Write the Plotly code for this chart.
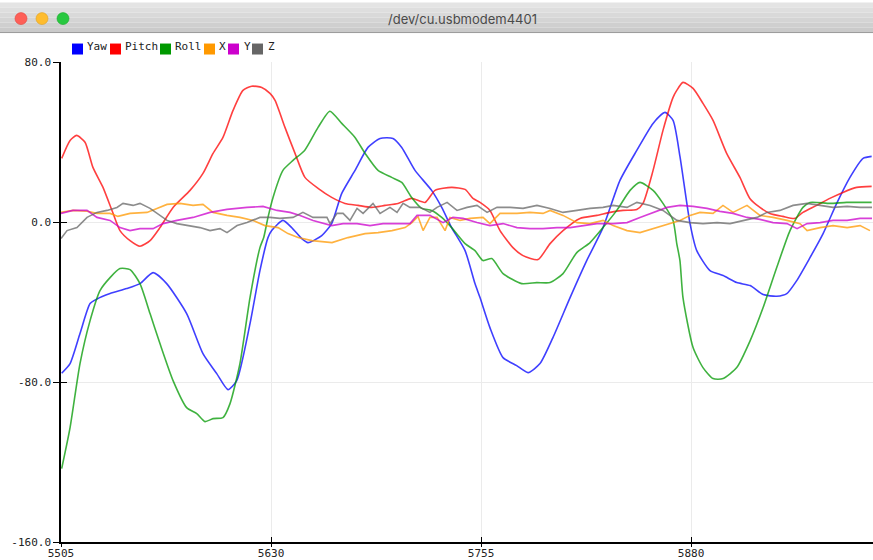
import plotly.graph_objects as go

# ---------------- data ----------------
yaw_x = [5505.4, 5510.4, 5516.3, 5522.3, 5526.2, 5534.2, 5544.1, 5552.0, 5559.8, 5567.9,
         5579.8, 5589.5, 5597.7, 5604.4, 5609.6, 5617.5, 5623.4, 5628.2, 5630.4, 5637.1,
         5642.3, 5648.3, 5652.0, 5660.2, 5666.1, 5672.1, 5680.0, 5687.7, 5694.9, 5702.6,
         5707.8, 5715.7, 5725.6, 5731.6, 5737.5, 5745.5, 5751.4, 5754.4, 5760.3, 5768.1,
         5776.2, 5783.0, 5790.1, 5797.8, 5808.0, 5817.9, 5827.6, 5837.7, 5847.7, 5857.4,
         5864.5, 5869.3, 5873.4, 5879.4, 5883.4, 5891.3, 5899.1, 5907.2, 5915.2, 5922.9,
         5931.0, 5937.0, 5942.9, 5950.8, 5958.6, 5966.7, 5974.6, 5982.4, 5987.5]
yaw_y = [-75.6, -70.8, -55.8, -40.8, -38.6, -35.8, -33.3, -30.8, -25.3, -30.8,
         -45.8, -65.8, -75.8, -83.8, -79.3, -50.8, -24.3, -7.8, -4.3, 0.8,
         -2.8, -8.3, -10.3, -6.8, -0.8, 14.3, 25.8, 37.3, 41.8, 41.8,
         37.3, 25.8, 15.8, 7.3, -2.8, -14.3, -30.8, -37.8, -52.8, -67.8,
         -71.8, -75.3, -70.8, -57.8, -37.8, -19.3, -2.8, 20.8, 35.8, 49.3,
         54.8, 50.8, 32.8, -0.8, -14.3, -24.3, -26.8, -30.3, -31.8, -36.3,
         -37.1, -35.8, -29.3, -17.8, -5.8, 9.3, 22.3, 31.8, 32.8]

pitch_x = [5505.4, 5510.4, 5514.3, 5519.3, 5524.0, 5530.0, 5536.0, 5540.1, 5546.1, 5552.0,
           5558.0, 5563.9, 5571.7, 5581.8, 5589.5, 5595.5, 5601.4, 5607.4, 5613.3, 5618.5,
           5624.5, 5629.4, 5632.4, 5638.3, 5644.3, 5650.2, 5658.0, 5666.1, 5674.0, 5681.8,
           5690.0, 5697.8, 5705.6, 5713.7, 5721.7, 5727.6, 5737.5, 5745.5, 5750.2, 5754.4,
           5760.3, 5766.3, 5774.0, 5780.0, 5788.9, 5796.1, 5803.8, 5813.9, 5824.0, 5831.8,
           5839.5, 5847.7, 5851.4, 5857.4, 5863.3, 5869.3, 5871.5, 5875.2, 5881.2, 5887.1,
           5893.1, 5901.2, 5909.1, 5915.0, 5921.0, 5926.9, 5934.7, 5941.8, 5946.6, 5954.8,
           5962.6, 5970.4, 5978.6, 5987.5]
pitch_y = [31.8, 40.8, 43.3, 39.9, 27.3, 17.3, 4.3, -4.3, -9.3, -12.1,
           -9.3, -2.8, 7.3, 15.8, 24.3, 34.3, 42.3, 55.8, 65.8, 67.9,
           67.3, 64.3, 60.8, 47.3, 34.3, 22.3, 16.8, 12.3, 9.3, 8.3,
           7.3, 8.3, 9.3, 11.8, 9.8, 15.8, 17.3, 16.3, 11.8, 9.8,
           5.8, -4.3, -12.8, -16.8, -18.8, -10.8, -4.3, 1.8, 3.3, 4.8,
           5.8, 6.3, 9.3, 25.8, 45.8, 62.3, 65.8, 69.8, 66.8, 59.3,
           50.8, 34.3, 22.3, 11.8, 7.3, 4.3, 2.8, 1.8, 4.8, 8.3,
           11.8, 14.8, 17.3, 17.8]

roll_x = [5505.4, 5510.4, 5516.3, 5522.3, 5528.2, 5534.2, 5540.1, 5546.1, 5552.0, 5558.0,
          5563.9, 5571.7, 5579.8, 5585.8, 5590.7, 5595.5, 5601.4, 5605.6, 5611.5, 5617.5,
          5623.4, 5625.7, 5628.2, 5631.2, 5637.1, 5643.1, 5650.0, 5658.0, 5665.0, 5672.1,
          5680.0, 5686.0, 5693.7, 5701.8, 5707.8, 5713.7, 5719.7, 5725.6, 5731.6, 5737.5,
          5745.5, 5751.4, 5756.2, 5761.4, 5768.1, 5779.2, 5788.1, 5796.1, 5803.8, 5812.0,
          5819.9, 5827.6, 5835.8, 5843.7, 5849.6, 5857.4, 5863.3, 5869.3, 5871.5, 5873.4,
          5875.2, 5881.2, 5887.1, 5893.1, 5899.1, 5907.2, 5915.2, 5922.9, 5931.0, 5938.9,
          5946.6, 5950.8, 5962.6, 5972.6, 5987.5]
roll_y = [-123.3, -102.8, -70.8, -49.3, -34.3, -27.8, -23.3, -23.8, -30.8, -45.8,
          -60.8, -79.3, -92.8, -95.8, -99.8, -98.3, -97.8, -90.8, -70.8, -37.8,
          -12.8, -7.6, 2.3, 12.3, 25.8, 30.8, 35.8, 47.3, 55.4, 49.3,
          42.3, 34.3, 25.8, 22.3, 19.8, 12.3, 6.8, 5.8, 2.3, -2.8,
          -10.8, -14.3, -19.3, -18.3, -25.8, -30.8, -30.3, -30.3, -25.8, -15.3,
          -10.3, -2.8, 5.8, 15.8, 19.8, 15.8, 9.3, 0.8, -10.8, -19.3,
          -37.8, -62.8, -72.8, -78.3, -78.3, -72.8, -59.3, -42.8, -22.8, -4.3,
          7.3, 9.8, 9.3, 9.8, 9.8]

x_x = [5505.0, 5512.1, 5520.5, 5526.4, 5534.2, 5538.9, 5546.1, 5552.0, 5556.2, 5562.1,
       5568.1, 5575.8, 5583.6, 5589.5, 5595.5, 5603.8, 5611.5, 5619.3, 5626.4, 5634.2,
       5640.1, 5646.1, 5654.4, 5666.3, 5675.8, 5686.0, 5693.7, 5702.0, 5709.8, 5713.9,
       5717.5, 5720.5, 5724.6, 5728.8, 5733.6, 5736.5, 5742.5, 5748.4, 5756.2, 5760.3,
       5766.3, 5776.4, 5784.1, 5791.9, 5796.1, 5803.8, 5812.1, 5819.9, 5827.6, 5833.6,
       5841.9, 5849.6, 5857.4, 5865.7, 5873.4, 5879.4, 5885.3, 5893.1, 5899.0, 5905.0,
       5913.3, 5921.0, 5928.8, 5937.1, 5944.9, 5949.1, 5956.8, 5964.5, 5972.9, 5980.6,
       5986.5]
x_y = [4.9, 5.8, 5.4, 4.3, 4.3, 2.8, 4.3, 4.8, 4.8, 6.8,
       8.8, 9.3, 8.3, 8.8, 4.8, 3.3, 2.3, 0.8, -1.8, -2.8,
       -5.8, -7.8, -9.3, -10.3, -7.8, -5.8, -5.3, -4.3, -2.8, -0.3,
       2.8, -4.3, 2.3, 2.3, -4.3, 2.3, 0.8, 1.8, 2.3, -0.8,
       4.3, 4.3, 4.8, 4.3, 5.8, 3.3, -0.3, -0.8, 0.8, -1.8,
       -4.3, -5.3, -3.3, -0.8, 0.8, 3.3, 4.8, 4.3, 8.3, 4.8,
       8.3, 3.3, 2.3, 0.8, -0.8, -4.3, -2.8, -1.8, -2.8, -1.8,
       -4.3]

y_x = [5505.0, 5512.1, 5520.5, 5526.4, 5534.2, 5540.1, 5546.1, 5552.0, 5559.8, 5565.7,
       5574.0, 5583.6, 5593.7, 5603.8, 5615.7, 5625.2, 5633.6, 5641.3, 5647.3, 5655.0,
       5666.1, 5672.9, 5681.2, 5688.9, 5696.7, 5705.0, 5712.7, 5716.9, 5724.6, 5732.4,
       5738.3, 5744.3, 5752.6, 5760.3, 5768.1, 5776.4, 5784.1, 5791.9, 5800.2, 5808.0,
       5815.7, 5824.0, 5833.6, 5841.9, 5849.6, 5857.4, 5865.7, 5873.4, 5881.2, 5889.5,
       5897.2, 5905.0, 5913.3, 5921.0, 5928.8, 5937.1, 5943.1, 5949.1, 5956.8, 5964.5,
       5972.9, 5980.6, 5987.7]
y_y = [4.3, 5.8, 5.8, 2.3, 0.8, -2.8, -4.3, -3.3, -3.3, -0.8,
       0.8, 2.3, 4.8, 6.3, 7.3, 7.8, 5.8, 4.8, 3.3, 0.8,
       -1.8, -0.8, -0.8, -1.8, -0.8, -0.8, -0.8, 3.3, 3.3, -0.3,
       2.3, 1.8, -0.3, -1.8, -0.8, -2.8, -3.3, -3.3, -2.8, -2.8,
       -1.8, -0.8, -0.8, -0.3, 2.3, 4.8, 7.3, 8.3, 7.8, 6.8,
       5.3, 4.3, 2.3, 1.3, -0.3, -0.8, -3.3, -0.8, -0.3, 0.8,
       0.8, 1.8, 1.8]

z_x = [5505.0, 5508.6, 5514.5, 5520.5, 5526.4, 5532.4, 5538.3, 5541.9, 5547.9, 5552.0,
       5558.0, 5562.1, 5568.1, 5574.0, 5580.0, 5587.7, 5593.7, 5599.6, 5603.8, 5609.8,
       5615.7, 5623.4, 5629.4, 5635.3, 5643.1, 5649.0, 5655.0, 5663.3, 5665.1, 5669.3,
       5672.9, 5677.0, 5681.2, 5684.8, 5690.7, 5694.9, 5700.8, 5705.0, 5708.6, 5712.7,
       5718.7, 5724.6, 5728.8, 5734.8, 5740.7, 5746.7, 5752.6, 5758.6, 5764.5, 5772.3,
       5780.0, 5788.3, 5796.1, 5803.8, 5812.1, 5819.9, 5827.6, 5833.6, 5841.9, 5847.8,
       5855.6, 5863.3, 5871.6, 5879.4, 5887.1, 5895.5, 5903.2, 5910.9, 5919.3, 5925.2,
       5932.9, 5940.7, 5949.1, 5956.8, 5964.5, 5972.9, 5980.6, 5987.7]
z_y = [-8.3, -4.3, -2.8, 2.3, 4.8, 5.8, 7.3, 9.3, 8.3, 9.3,
       6.8, 4.3, 0.8, -0.8, -1.8, -2.8, -4.3, -3.3, -5.3, -1.8,
       -0.3, 2.3, 2.3, 1.8, 2.3, 4.8, 2.3, 2.3, -0.8, 4.3,
       4.3, 0.8, 6.8, 4.3, 9.3, 4.3, 7.3, 4.8, 9.3, 7.3,
       7.3, 4.8, 7.3, 9.8, 5.8, 7.3, 8.3, 4.8, 7.3, 7.3,
       6.8, 8.3, 6.8, 4.8, 5.8, 6.8, 7.3, 8.3, 7.3, 9.8,
       8.3, 5.8, 0.8, -0.3, -0.8, -0.3, -0.8, 0.8, 2.3, 4.8,
       5.8, 8.3, 9.3, 8.3, 7.3, 7.8, 7.3, 7.3]

series_names = ["Yaw", "Pitch", "Roll", "X", "Y", "Z"]
series_colors = ["#0000FF", "#FF0000", "#009900", "#FF9900", "#CC00CC", "#666666"]
series_smooth = [True, True, True, False, False, False]
x_ticks = [5505, 5630, 5755, 5880]
y_ticks = [-160, -80, 0, 80]
x_range = [5505, 5988.3]
y_range = [-160, 80]
window_title = "/dev/cu.usbmodem4401"

# ---------------- layout geometry (pixels) ----------------
W, H = 873, 560
ML, MR, MT, MB = 61, 0, 61.5, 17.5
PW, PH = W - ML - MR, H - MT - MB


def pxx(px):
    return (px - ML) / PW


def pyy(py):
    return (H - MB - py) / PH


FONT = "DejaVu Sans Mono"

fig = go.Figure()
data = [(yaw_x, yaw_y), (pitch_x, pitch_y), (roll_x, roll_y), (x_x, x_y), (y_x, y_y), (z_x, z_y)]
for i, (name, col, smooth, (xs, ys)) in enumerate(zip(series_names, series_colors, series_smooth, data)):
    is_last = i == len(series_names) - 1
    line = dict(color=col, width=1.6)
    if smooth:
        line.update(shape="spline", smoothing=0.6)
    fig.add_trace(go.Scatter(
        x=xs, y=ys, mode="lines", name=name, line=line,
        opacity=0.75, showlegend=False, hoverinfo="skip",
        xaxis="x2" if is_last else "x", yaxis="y2" if is_last else "y",
    ))

axis_common = dict(showline=True, linecolor="#000000", linewidth=1.5, zeroline=False, automargin=False)

fig.update_layout(
    template="none",
    width=W, height=H, autosize=False,
    margin=dict(l=ML, r=MR, t=MT, b=MB, pad=0),
    paper_bgcolor="#ffffff", plot_bgcolor="#ffffff",
    xaxis=dict(range=x_range, tickvals=x_ticks, ticktext=[str(v) for v in x_ticks],
               ticks="inside", ticklen=5, tickwidth=1, tickcolor="#000",
               showgrid=True, gridcolor="#ebebeb", gridwidth=1,
               tickfont=dict(family=FONT, size=11, color="#222"), **axis_common),
    yaxis=dict(range=y_range, tickvals=y_ticks, ticktext=["%.1f" % v for v in y_ticks],
               ticks="outside", ticklen=6, tickwidth=1, tickcolor="#000",
               showgrid=True, gridcolor="#ebebeb", gridwidth=1,
               tickfont=dict(family=FONT, size=11, color="#222"), **axis_common),
    xaxis2=dict(range=x_range, overlaying="x", anchor="y2", side="bottom", automargin=False,
                tickvals=x_ticks, ticks="outside", ticklen=4, tickwidth=1, tickcolor="#000",
                showticklabels=False, showgrid=False, showline=False, zeroline=False),
    yaxis2=dict(range=y_range, overlaying="y", anchor="x2", side="left", automargin=False,
                tickvals=y_ticks, ticks="inside", ticklen=6, tickwidth=1, tickcolor="#000",
                showticklabels=False, showgrid=False, showline=False, zeroline=False),
)

shapes = []
annotations = []

# window title bar (gradient approximated with bands)
bar_top, bar_bot = 2, 32
bands = ["#e4e4e4", "#dedede", "#d9d9d9", "#d4d4d4", "#cfcfcf", "#cacaca"]
nb = len(bands)
for k, c in enumerate(bands):
    y_a = bar_top + (bar_bot - bar_top) * k / nb
    y_b = bar_top + (bar_bot - bar_top) * (k + 1) / nb
    shapes.append(dict(type="rect", xref="paper", yref="paper",
                       x0=pxx(0), x1=pxx(W), y0=pyy(y_b), y1=pyy(y_a),
                       fillcolor=c, line=dict(width=0), layer="above"))
shapes.append(dict(type="line", xref="paper", yref="paper",
                   x0=pxx(0), x1=pxx(W), y0=pyy(bar_bot), y1=pyy(bar_bot),
                   line=dict(color="#9a9a9a", width=1), layer="above"))

# traffic lights
for cx, fill, edge in [(21, "#fe5f57", "#e0443e"), (42, "#febc2e", "#dea123"), (63, "#28c840", "#1aab29")]:
    r = 6
    shapes.append(dict(type="circle", xref="paper", yref="paper",
                       x0=pxx(cx - r), x1=pxx(cx + r), y0=pyy(18 + r), y1=pyy(18 - r),
                       fillcolor=fill, line=dict(color=edge, width=0.6), layer="above"))

annotations.append(dict(text=window_title, xref="paper", yref="paper",
                        x=pxx(462), y=pyy(18), xanchor="center", yanchor="middle",
                        showarrow=False, font=dict(family="Inter, Roboto, sans-serif", size=13, color="#4a4a4a")))

# legend (square swatches + labels)
sq_left = [72, 110, 160, 204, 228, 252]
txt_left = [86, 124, 174, 218, 243, 267]
for name, col, sl, tl in zip(series_names, series_colors, sq_left, txt_left):
    shapes.append(dict(type="rect", xref="paper", yref="paper",
                       x0=pxx(sl), x1=pxx(sl + 11), y0=pyy(54), y1=pyy(43),
                       fillcolor=col, line=dict(width=0), layer="above"))
    annotations.append(dict(text=name, xref="paper", yref="paper",
                            x=pxx(tl - 1), y=pyy(46), xanchor="left", yanchor="middle",
                            showarrow=False, font=dict(family=FONT, size=11, color="#222")))

fig.update_layout(shapes=shapes, annotations=annotations)
fig.write_html("out.html", config={"displayModeBar": False},
               post_script="document.body.style.margin='0';document.body.style.overflow='hidden';")
